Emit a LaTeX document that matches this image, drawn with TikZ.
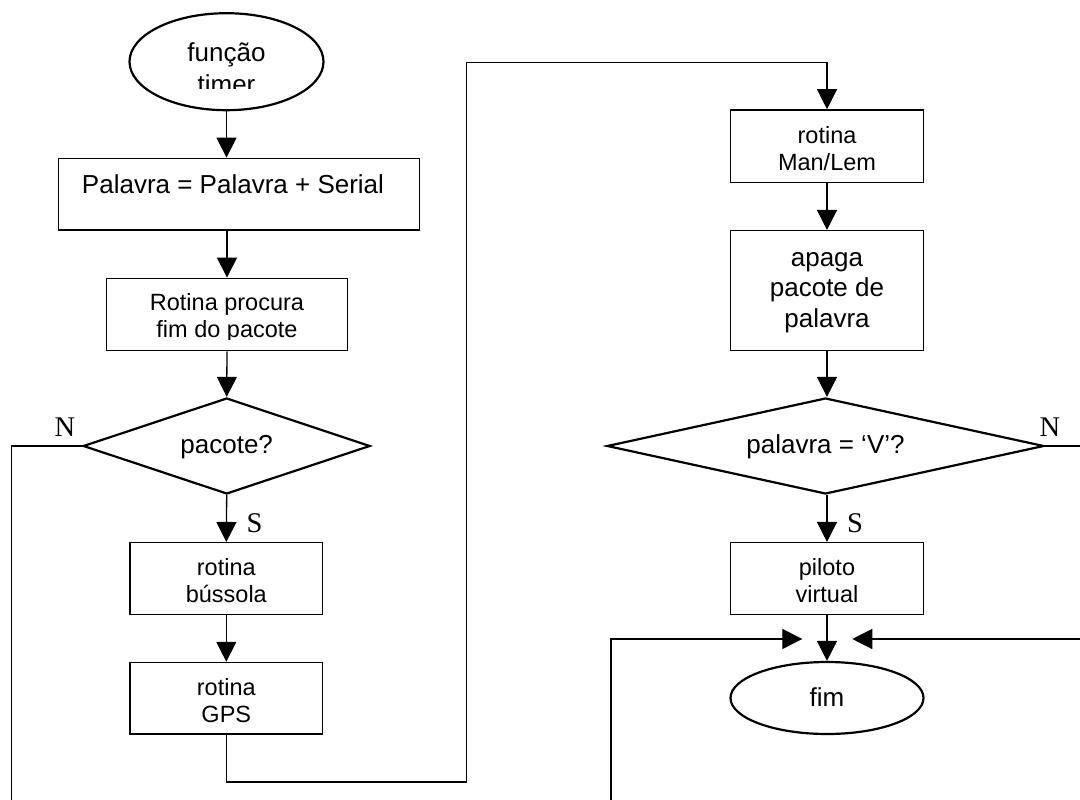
\documentclass[tikz,border=0pt]{standalone}
\usepackage{fontspec}
\setmainfont{Liberation Sans}
\newfontfamily\labelfont{Liberation Serif}
\usetikzlibrary{shapes.geometric,arrows.meta}
\begin{document}
\begin{tikzpicture}[x=1pt,y=-1pt,
  line/.style={line width=1.3pt},
  arr/.style={line, -{Triangle[length=20pt,width=20pt]}},
  box/.style={draw, line width=1.5pt, rectangle, inner sep=0pt},
  term/.style={draw, line width=2.2pt, ellipse, inner sep=0pt},
  decision/.style={draw, line width=2.2pt, diamond, inner sep=0pt},
  big/.style={font=\fontsize{26}{30}\selectfont, inner sep=0pt, anchor=base},
  small/.style={font=\fontsize{23.5}{27}\selectfont, inner sep=0pt, anchor=base},
  yn/.style={font=\labelfont\fontsize{28.5}{30}\selectfont, inner sep=0pt, anchor=base},
]
\useasboundingbox[fill=white] (0,0) rectangle (1080,800);

% ---- left column ----
\node[term, minimum width=194pt, minimum height=97pt] (start) at (226.5,61.7) {};
\begin{scope}
  \clip (120,0) rectangle (340,88.3);
  \node[big] (startA) at (226.5,61.5) {função};
  \node[big] (startB) at (226.5,93) {timer};
\end{scope}

\node[box, minimum width=361pt, minimum height=71.7pt] (assemble) at (238.8,194.2) {};
\node[big] (assembleT) at (233,193.3) {Palavra = Palavra + Serial};

\node[box, minimum width=240.6pt, minimum height=72.4pt] (search) at (227,314.5) {};
\begin{scope}
  \clip (100,280) rectangle (350,339.5);
  \node[small] (searchA) at (227,310.7) {Rotina procura};
  \node[small] (searchB) at (227,337.9) {fim do pacote};
\end{scope}

\node[decision, minimum width=287pt, minimum height=96pt] (dec1) at (226.7,446) {};
\node[big] (dec1T) at (226.7,453.5) {pacote?};

\node[box, minimum width=192.7pt, minimum height=71.6pt] (bus) at (226.3,578.5) {};
\node[small] (busA) at (226.3,575.7) {rotina};
\node[small] (busB) at (226.3,602.3) {bússola};

\node[box, minimum width=192.7pt, minimum height=71.6pt] (gps) at (226.3,698.3) {};
\node[small] (gpsA) at (226.3,695.7) {rotina};
\node[small] (gpsB) at (226.3,722.3) {GPS};

% ---- right column ----
\node[box, minimum width=192.6pt, minimum height=72.7pt] (man) at (827,146.3) {};
\node[small] (manA) at (827,143.3) {rotina};
\node[small] (manB) at (827,170.7) {Man/Lem};

\node[box, minimum width=192.6pt, minimum height=120pt] (apaga) at (827,290.7) {};
\node[big] (apagaA) at (827,266) {apaga};
\node[big] (apagaB) at (827,296.5) {pacote de};
\node[big] (apagaC) at (827,327) {palavra};

\node[decision, minimum width=437pt, minimum height=96pt] (dec2) at (825.5,446) {};
\node[big] (dec2T) at (825.5,453) {palavra = ‘V’?};

\node[box, minimum width=192.6pt, minimum height=71.6pt] (piloto) at (827,578.5) {};
\node[small] (pilotoA) at (827,575.7) {piloto};
\node[small] (pilotoB) at (827,602.3) {virtual};

\node[term, minimum width=193pt, minimum height=72pt] (fim) at (827,698) {};
\node[big] (fimT) at (827,706) {fim};

% ---- branch labels ----
\node[yn] (noLeft) at (65,436.5) {N};
\node[yn] (yesLeft) at (254.5,532) {S};
\node[yn] (noRight) at (1050,436.5) {N};
\node[yn] (yesRight) at (855,532) {S};

% ---- connectors ----
\draw[arr] (start.south) -- (start.south |- assemble.north);
\draw[arr] (search.north |- assemble.south) -- (search.north);
\draw[arr] (search.south) -- (dec1.north);
\draw[arr] (dec1.south) -- (bus.north);
\draw[arr] (bus.south) -- (gps.north);

\coordinate (gpsDown) at (466.7,782);
\coordinate (gpsUp) at (466.7,62.7);
\draw[arr] (gps.south) |- (gpsDown) -- (gpsUp) -| (man.north);

\draw[arr] (man.south) -- (apaga.north);
\draw[arr] (apaga.south) -- (apaga.south |- dec2.north);
\draw[arr] (piloto.north |- dec2.south) -- (piloto.north);
\draw[arr] (piloto.south) -- (fim.north);

\coordinate (noL) at (11.7,446);
\coordinate (noLend) at (11.7,800);
\draw[line] (dec1.west) -- (noL) -- (noLend);
\coordinate (noR) at (1080,446);
\draw[line] (dec2.east) -- (noR);

\coordinate (inL) at (611,800);
\coordinate (inLtip) at (802.3,639);
\draw[arr] (inL) |- (inLtip);
\coordinate (inR) at (1080,639);
\coordinate (inRtip) at (852.3,639);
\draw[arr] (inR) -- (inRtip);
\end{tikzpicture}
\end{document}
